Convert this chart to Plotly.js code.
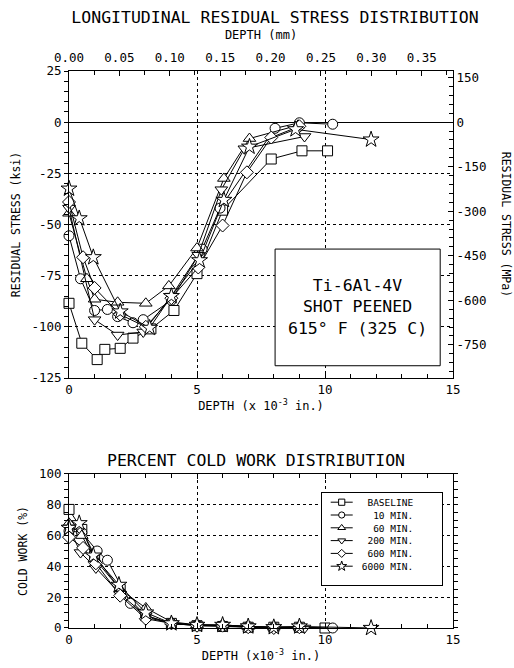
<!DOCTYPE html>
<html>
<head>
<meta charset="utf-8">
<script src="https://cdn.plot.ly/plotly-3.0.1.min.js"></script>
<style>html,body{margin:0;padding:0;background:#fff;}#chart{width:514px;height:668px;}</style>
</head>
<body>
<div id="chart"></div>
<script>
// ---------- DATA ----------
var seriesNames = ['BASELINE', '10 MIN.', '60 MIN.', '200 MIN.', '600 MIN.', '6000 MIN.'];
var seriesSymbols = ['square', 'circle', 'triangle-up', 'triangle-down', 'diamond', 'star'];

// Residual stress (ksi) vs depth (x 10^-3 in.)
var stressBaselineX = [0, 0.5, 1.1, 1.4, 2.0, 2.5, 3.2, 4.1, 5.0, 6.0, 7.9, 9.1, 10.1];
var stressBaselineY = [-88.5, -108, -116, -111, -110.5, -105.5, -101, -92, -74, -43, -18, -14, -14];
var stress10X = [0, 0.45, 1.0, 1.5, 1.9, 2.5, 2.9, 4.0, 5.2, 5.9, 8.05, 9.0, 10.3];
var stress10Y = [-55.5, -76.5, -92, -91.5, -95, -98, -96.5, -87, -62, -42, -3, -0.3, -1];
var stress60X = [0, 0.7, 1.0, 1.9, 3.0, 3.9, 5.0, 6.05, 7.05, 8.95];
var stress60Y = [-44.5, -76.5, -86.5, -88, -88.5, -80, -61.5, -27.5, -8, -1.5];
var stress200X = [0, 1.0, 1.9, 2.9, 4.0, 5.05, 5.95, 6.85, 9.2];
var stress200Y = [-42, -96.5, -104, -102.5, -85, -65, -33, -13, -7];
var stress600X = [0, 0.55, 1.0, 2.0, 3.0, 4.0, 5.05, 6.0, 6.95, 7.9, 9.0];
var stress600Y = [-39, -66, -81, -94, -100, -86, -71, -50.5, -24.5, -7.5, -2];
var stress6000X = [0, 0.4, 0.95, 2.0, 3.15, 4.0, 5.1, 6.05, 7.05, 8.85, 11.8];
var stress6000Y = [-32.5, -47, -66, -92.5, -100.5, -85, -67.5, -38, -12, -3.5, -8.5];

// Percent cold work vs depth (x 10^-3 in.)
var coldBaselineX = [0, 0.5, 1.0, 2.0, 3.0, 4.0, 5.0, 6.0, 7.0, 8.0, 9.0, 10.0];
var coldBaselineY = [77, 64, 47, 25, 8, 3, 1.5, 1, 0.5, 0.5, 0.5, 0];
var cold10X = [0, 0.5, 1.1, 1.5, 2.4, 3.0, 4.0, 5.0, 6.0, 7.0, 8.0, 9.0, 10.3];
var cold10Y = [63, 62, 50, 44, 16, 7, 3, 2, 1.5, 1, 0.5, 0.5, 0];
var cold60X = [0, 0.5, 1.0, 2.0, 3.0, 4.0, 5.0, 6.0, 7.0, 8.0, 9.0];
var cold60Y = [68, 60, 45, 25, 13, 4, 2, 2, 1, 0.5, 0.5];
var cold200X = [0, 0.45, 1.05, 2.0, 3.0, 4.0, 5.0, 6.0, 7.0, 8.0, 9.2];
var cold200Y = [65, 49, 39, 22, 8, 3, 2, 1.5, 1, 0, 0];
var cold600X = [0, 0.55, 1.05, 2.0, 3.0, 4.0, 5.0, 6.0, 7.0, 8.0, 9.0];
var cold600Y = [59, 52, 42, 21, 6, 3, 1.5, 1.5, 0.5, 0, 0.5];
var cold6000X = [0, 0.4, 0.95, 1.95, 3.0, 4.0, 5.0, 6.0, 7.0, 8.0, 9.0, 11.8];
var cold6000Y = [65, 68, 47, 28, 10, 3, 2, 2, 1, 0.5, 1, 0];

// Tick labels
var ksiTickVals = [25, 0, -25, -50, -75, -100, -125];
var ksiTickText = ['25', '0', '-25', '-50', '-75', '-100', '-125'];
var mpaTickVals = [150, 0, -150, -300, -450, -600, -750];
var mpaTickText = ['150', '0', '-150', '-300', '-450', '-600', '-750'];
var mmTickVals = [0, 0.05, 0.10, 0.15, 0.20, 0.25, 0.30, 0.35];
var mmTickText = ['0.00', '0.05', '0.10', '0.15', '0.20', '0.25', '0.30', '0.35'];
var depthTickVals = [0, 5, 10, 15];
var depthTickText = ['0', '5', '10', '15'];
var coldTickVals = [0, 20, 40, 60, 80, 100];
var coldTickText = ['0', '20', '40', '60', '80', '100'];

var materialLines = ['Ti-6Al-4V', 'SHOT PEENED', '615\u00B0 F (325 C)'];

// ---------- BUILD ----------
var KSI_TO_MPA = 6.895;
var IN_E3_TO_MM = 0.0254;
var FONT = 'DejaVu Sans Mono, Liberation Mono, monospace';

var stressX = [stressBaselineX, stress10X, stress60X, stress200X, stress600X, stress6000X];
var stressY = [stressBaselineY, stress10Y, stress60Y, stress200Y, stress600Y, stress6000Y];
var coldX = [coldBaselineX, cold10X, cold60X, cold200X, cold600X, cold6000X];
var coldY = [coldBaselineY, cold10Y, cold60Y, cold200Y, cold600Y, cold6000Y];

function padName(s) {
  var out = s;
  while (out.length < 9) out = '\u00A0' + out;
  return out + '\u00A0\u00A0\u00A0\u00A0';
}
function markerFor(i) {
  var sz = seriesSymbols[i] === 'star' ? 12 : (seriesSymbols[i].indexOf('triangle') === 0 ? 11 : 10);
  return {symbol: seriesSymbols[i], size: sz, color: 'white', line: {color: 'black', width: 1}};
}

var traces = [];
for (var i = 0; i < seriesNames.length; i++) {
  traces.push({
    type: 'scatter', mode: 'lines+markers', x: stressX[i], y: stressY[i],
    xaxis: 'x', yaxis: 'y', name: padName(seriesNames[i]), showlegend: false,
    line: {color: 'black', width: 1}, marker: markerFor(i), cliponaxis: false
  });
}
for (var j = 0; j < seriesNames.length; j++) {
  traces.push({
    type: 'scatter', mode: 'lines+markers', x: coldX[j], y: coldY[j],
    xaxis: 'x3', yaxis: 'y3', name: padName(seriesNames[j]), showlegend: true,
    line: {color: 'black', width: 1}, marker: markerFor(j), cliponaxis: false
  });
}
// empty carriers so the secondary (mm / MPa) axes are drawn
traces.push({type: 'scatter', mode: 'markers', x: [], y: [], xaxis: 'x2', yaxis: 'y', showlegend: false, hoverinfo: 'skip'});
traces.push({type: 'scatter', mode: 'markers', x: [], y: [], xaxis: 'x', yaxis: 'y2', showlegend: false, hoverinfo: 'skip'});

var ksiRange = [-125, 25];
var depthRange = [0, 15];

var baseAxis = {
  showline: true, linecolor: 'black', linewidth: 1, zeroline: false,
  tickfont: {family: FONT, size: 12.5, color: 'black'}, tickcolor: 'black',
  gridcolor: 'black', griddash: 'dot', gridwidth: 1
};
function ax(o) { var r = {}; for (var k in baseAxis) r[k] = baseAxis[k]; for (var k2 in o) r[k2] = o[k2]; return r; }

var layout = {
  width: 514, height: 668,
  margin: {l: 69, r: 61, t: 71, b: 40},
  paper_bgcolor: 'white', plot_bgcolor: 'white',
  font: {family: FONT, size: 12, color: 'black'},
  title: {text: 'LONGITUDINAL RESIDUAL STRESS DISTRIBUTION', font: {family: FONT, size: 16.5, color: 'black'},
          x: 0.535, xref: 'container', xanchor: 'center', y: 1 - 17 / 668, yref: 'container', yanchor: 'middle'},
  showlegend: true,
  legend: {x: 0.6555, y: 0.2447, xanchor: 'left', yanchor: 'top', bgcolor: 'white', bordercolor: 'black', borderwidth: 1,
           font: {family: FONT, size: 9.5, color: 'black'}, tracegroupgap: 0},
  xaxis: ax({domain: [0, 1], anchor: 'y', range: depthRange, tickmode: 'array', tickvals: depthTickVals, ticktext: depthTickText,
             ticks: 'inside', ticklen: 5, minor: {dtick: 1, tick0: 0, ticks: 'inside', ticklen: 4, tickcolor: 'black'},
             showgrid: true, title: {text: 'DEPTH (x 10<sup>-3</sup> in.)', font: {family: FONT, size: 12}, standoff: 4}}),
  xaxis2: ax({overlaying: 'x', side: 'top', anchor: 'y', range: [depthRange[0] * IN_E3_TO_MM, depthRange[1] * IN_E3_TO_MM],
              tickmode: 'array', tickvals: mmTickVals, ticktext: mmTickText, ticklabelstandoff: 3,
              ticks: 'inside', ticklen: 5, minor: {dtick: 0.025, tick0: 0, ticks: 'inside', ticklen: 4, tickcolor: 'black'},
              showgrid: false, title: {text: 'DEPTH (mm)', font: {family: FONT, size: 12}, standoff: 7}}),
  yaxis: ax({domain: [0.4488, 1], anchor: 'x', range: ksiRange, tickmode: 'array', tickvals: ksiTickVals, ticktext: ksiTickText,
             ticks: 'outside', ticklen: 4, minor: {dtick: 5, tick0: 0, ticks: 'outside', ticklen: 4, tickcolor: 'black'},
             showgrid: true, zeroline: true, zerolinecolor: 'black', zerolinewidth: 1,
             title: {text: 'RESIDUAL STRESS (ksi)', font: {family: FONT, size: 11.5}, standoff: 8}}),
  yaxis2: ax({overlaying: 'y', side: 'right', anchor: 'x', range: [ksiRange[0] * KSI_TO_MPA, ksiRange[1] * KSI_TO_MPA],
              tickmode: 'array', tickvals: mpaTickVals, ticktext: mpaTickText,
              ticks: 'inside', ticklen: 5, minor: {dtick: 30, tick0: 0, ticks: 'inside', ticklen: 4, tickcolor: 'black'},
              showgrid: false}),
  xaxis3: ax({domain: [0, 1], anchor: 'y3', range: depthRange, tickmode: 'array', tickvals: depthTickVals, ticktext: depthTickText,
              ticks: 'inside', ticklen: 5, mirror: 'ticks', minor: {dtick: 1, tick0: 0, ticks: 'inside', ticklen: 4, tickcolor: 'black'},
              showgrid: true, title: {text: 'DEPTH (x10<sup>-3</sup> in.)', font: {family: FONT, size: 12}, standoff: 4}}),
  yaxis3: ax({domain: [0, 0.2765], anchor: 'x3', range: [0, 100], tickmode: 'array', tickvals: coldTickVals, ticktext: coldTickText,
              ticks: 'outside', ticklen: 4, mirror: 'ticks', minor: {dtick: 5, tick0: 0, ticks: 'outside', ticklen: 4, tickcolor: 'black'},
              showgrid: true, title: {text: 'COLD WORK (%)', font: {family: FONT, size: 11.5}, standoff: 8}}),
  shapes: [
    {type: 'rect', xref: 'x', yref: 'y', x0: 8.05, x1: 14.5, y0: -62, y1: -119, line: {color: 'black', width: 1}, fillcolor: 'white', layer: 'above'}
  ],
  annotations: [
    {text: materialLines.join('<br>'), xref: 'x', yref: 'y', x: 11.27, y: -90.5, showarrow: false,
     font: {family: FONT, size: 16.5, color: 'black'}, align: 'center', xanchor: 'center', yanchor: 'middle'},
    {text: 'RESIDUAL STRESS (MPa)', xref: 'paper', yref: 'paper', x: 1.14, y: 0.7244, textangle: 90, showarrow: false,
     font: {family: FONT, size: 11.5, color: 'black'}, xanchor: 'center', yanchor: 'middle'},
    {text: 'PERCENT COLD WORK DISTRIBUTION', xref: 'paper', yref: 'paper', x: 0.487, y: 0.3016, showarrow: false,
     font: {family: FONT, size: 16.5, color: 'black'}, xanchor: 'center', yanchor: 'middle'}
  ]
};

// compact the legend rows and sample symbols after drawing
function compactLegend(gd) {
  var legend = gd.querySelector('g.legend');
  if (!legend) return;
  var items = legend.querySelectorAll('g.traces');
  var rowH = 12.8, top = 10.5;
  for (var k = 0; k < items.length; k++) {
    var tr = items[k].getAttribute('transform') || '';
    var m = /translate\(\s*([-\d.e]+)[ ,]+([-\d.e]+)/.exec(tr);
    var tx = m ? parseFloat(m[1]) : 0;
    items[k].setAttribute('transform', 'translate(' + tx + ',' + (top + k * rowH) + ')');
  }
  var bg = legend.querySelector('rect.bg');
  if (bg) bg.setAttribute('height', (2 * top - rowH / 2 + items.length * rowH + 2).toFixed(1));
  var pts = legend.querySelectorAll('.legendpoints path.scatterpts');
  for (var p = 0; p < pts.length; p++) {
    pts[p].setAttribute('transform', 'translate(20,0) scale(0.62)');
    pts[p].style.vectorEffect = 'non-scaling-stroke';
  }
  var lns = legend.querySelectorAll('.legendlines path');
  for (var q = 0; q < lns.length; q++) lns[q].setAttribute('d', 'M9,0h22');
}

Plotly.newPlot('chart', traces, layout, {displayModeBar: false, staticPlot: true}).then(compactLegend);
</script>
</body>
</html>
